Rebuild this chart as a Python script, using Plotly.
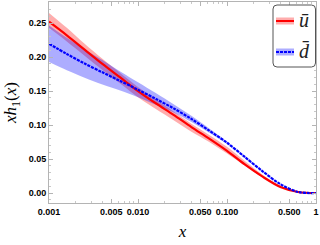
import plotly.graph_objects as go

x_vals = [0.001, 0.001585, 0.002512, 0.003981, 0.00631, 0.01, 0.01585, 0.02512,
          0.03981, 0.0631, 0.1, 0.1585, 0.2512, 0.3981, 0.631, 1.0]
ubar = [0.252, 0.232, 0.211, 0.190, 0.170, 0.150, 0.132, 0.115,
        0.097, 0.080, 0.062, 0.042, 0.024, 0.009, 0.0015, 0.0]
ubar_lo = [0.243, 0.223, 0.202, 0.181, 0.161, 0.141, 0.1235, 0.107,
           0.090, 0.075, 0.058, 0.040, 0.023, 0.0085, 0.0013, 0.0]
ubar_hi = [0.265, 0.243, 0.2195, 0.1975, 0.1765, 0.156, 0.1375, 0.120,
           0.102, 0.0855, 0.068, 0.047, 0.027, 0.0105, 0.0018, 0.0]
dbar = [0.2196, 0.2045, 0.1905, 0.1775, 0.1648, 0.152, 0.1385, 0.1245,
        0.109, 0.0918, 0.074, 0.053, 0.032, 0.013, 0.0015, 0.0]
dbar_lo = [0.1926, 0.1805, 0.1695, 0.1595, 0.1508, 0.141, 0.130, 0.1185,
           0.1045, 0.0888, 0.0725, 0.052, 0.031, 0.0125, 0.0014, 0.0]
dbar_hi = [0.2466, 0.2285, 0.2115, 0.1955, 0.1788, 0.163, 0.147, 0.1305,
           0.1135, 0.0948, 0.0755, 0.054, 0.033, 0.0135, 0.0016, 0.0]

series_names = ["<i>ū</i>", "<i>d̄</i>"]

x_ticks = [0.001, 0.005, 0.01, 0.05, 0.1, 0.5, 1]
x_ticktext = ["0.001", "0.005", "0.010", "0.050", "0.100", "0.500", "1"]
y_ticks = [0.0, 0.05, 0.10, 0.15, 0.20, 0.25]
y_ticktext = ["0.00", "0.05", "0.10", "0.15", "0.20", "0.25"]

x_minor = [m * 10 ** e for e in (-3, -2, -1) for m in range(1, 10)] + [1.0]

red = "#ff0000"
blue = "#0000ff"
red_band = "rgba(255,0,0,0.32)"
blue_band = "rgba(0,0,255,0.32)"
blue_dash = "3px,1px"
sm = 0.9

fig = go.Figure()
fig.add_trace(go.Scatter(x=x_vals, y=ubar_hi, mode="lines", line=dict(width=0, shape="spline", smoothing=sm),
                         showlegend=False, hoverinfo="skip"))
fig.add_trace(go.Scatter(x=x_vals, y=ubar_lo, mode="lines", line=dict(width=0, shape="spline", smoothing=sm),
                         fill="tonexty", fillcolor=red_band, showlegend=False, hoverinfo="skip"))
fig.add_trace(go.Scatter(x=x_vals, y=dbar_hi, mode="lines", line=dict(width=0, shape="spline", smoothing=sm),
                         showlegend=False, hoverinfo="skip"))
fig.add_trace(go.Scatter(x=x_vals, y=dbar_lo, mode="lines", line=dict(width=0, shape="spline", smoothing=sm),
                         fill="tonexty", fillcolor=blue_band, showlegend=False, hoverinfo="skip"))
fig.add_trace(go.Scatter(x=x_vals, y=ubar, mode="lines", name=series_names[0], showlegend=False,
                         line=dict(color=red, width=2.2, shape="spline", smoothing=sm)))
fig.add_trace(go.Scatter(x=x_vals, y=dbar, mode="lines", name=series_names[1], showlegend=False,
                         line=dict(color=blue, width=2.2, dash=blue_dash, shape="spline", smoothing=sm)))

axis_common = dict(
    showline=True, linecolor="#b4b4b4", linewidth=1, mirror="allticks",
    ticks="inside", ticklen=4, tickcolor="#b4b4b4", showgrid=False, zeroline=False,
    tickfont=dict(family="Liberation Sans, Arial", size=9, color="black", weight="bold"),
)

fig.update_xaxes(
    type="log", range=[-3, 0], tickvals=x_ticks, ticktext=x_ticktext,
    ticklabeloverflow="allow",
    minor=dict(tickvals=x_minor, ticks="inside", ticklen=2, tickcolor="#c8c8c8"),
    title=dict(text="<i>x</i>", font=dict(family="Liberation Serif, serif", size=17, color="black"),
               standoff=9),
    **axis_common,
)
fig.update_yaxes(
    range=[-0.0147, 0.281], tickvals=y_ticks, ticktext=y_ticktext,
    minor=dict(dtick=0.01, ticks="inside", ticklen=2, tickcolor="#c8c8c8"),
    title=dict(text="<i>xh</i><sub>1</sub>(<i>x</i>)",
               font=dict(family="Liberation Serif, serif", size=17, color="black"), standoff=7),
    **axis_common,
)

# --- hand-drawn legend (rounded box with band + line samples), paper coords ---
PW, PH, L, T = 267.0, 201.0, 49.0, 2.0
def px(xp):
    return (xp - L) / PW
def py(yp):
    return (T + PH - yp) / PH

bx0, bx1, by0, by1, r = 273, 315.5, 5, 67, 4
path = (f"M {px(bx0 + r)},{py(by0)} L {px(bx1 - r)},{py(by0)} "
        f"Q {px(bx1)},{py(by0)} {px(bx1)},{py(by0 + r)} "
        f"L {px(bx1)},{py(by1 - r)} Q {px(bx1)},{py(by1)} {px(bx1 - r)},{py(by1)} "
        f"L {px(bx0 + r)},{py(by1)} Q {px(bx0)},{py(by1)} {px(bx0)},{py(by1 - r)} "
        f"L {px(bx0)},{py(by0 + r)} Q {px(bx0)},{py(by0)} {px(bx0 + r)},{py(by0)} Z")
fig.add_shape(type="path", path=path, xref="paper", yref="paper",
              line=dict(color="#555555", width=1), fillcolor="white", layer="above")

entries = [(21, red, red_band, "solid", series_names[0]), (52, blue, blue_band, blue_dash, series_names[1])]
for yy, col, band, dash, label in entries:
    fig.add_shape(type="line", xref="paper", yref="paper", x0=px(276), x1=px(294), y0=py(yy), y1=py(yy),
                  line=dict(color=band, width=7), layer="above")
    fig.add_shape(type="line", xref="paper", yref="paper", x0=px(276), x1=px(294), y0=py(yy), y1=py(yy),
                  line=dict(color=col, width=2, dash=dash), layer="above")
    fig.add_annotation(x=px(304), y=py(yy - 1), xref="paper", yref="paper", text=label, showarrow=False,
                       xanchor="center", yanchor="middle",
                       font=dict(family="Liberation Serif, serif", size=20, color="#222222"))

fig.update_layout(
    width=320, height=245,
    margin=dict(l=49, r=4, t=2, b=42),
    paper_bgcolor="white", plot_bgcolor="white",
    showlegend=False,
)

fig.write_html("out.html", config={"displayModeBar": False, "staticPlot": True},
               post_script="document.body.style.margin='0';document.body.style.padding='0';")
